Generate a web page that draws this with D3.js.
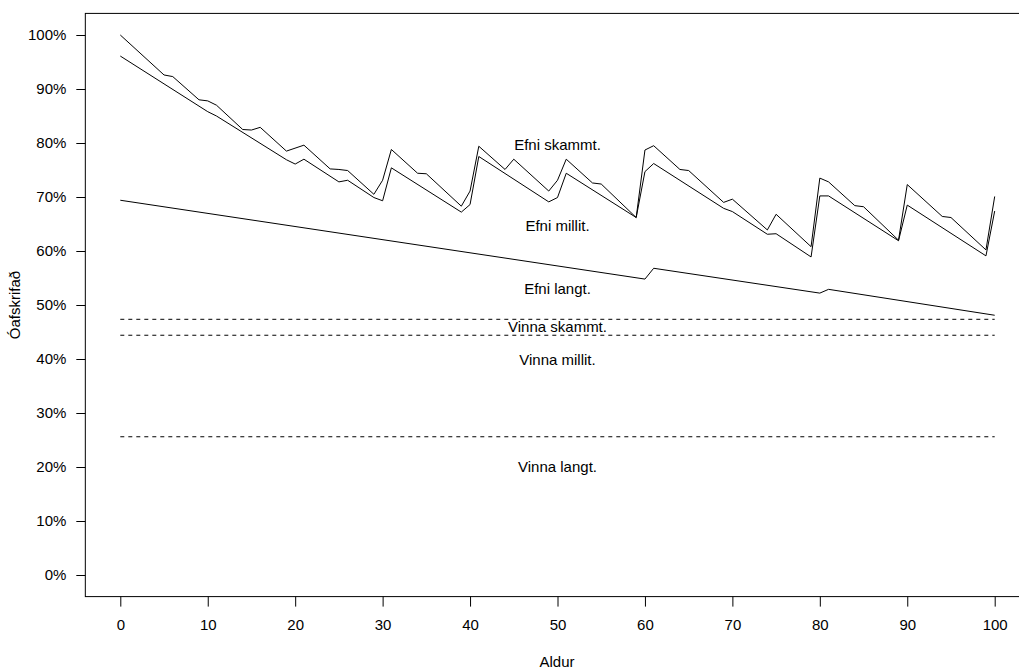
<!DOCTYPE html>
<html>
<head>
<meta charset="utf-8">
<script src="https://cdn.jsdelivr.net/npm/d3@7"></script>
<style>
  html, body { margin: 0; padding: 0; background: #fff; }
  svg { display: block; font-family: "Liberation Sans", Arial, sans-serif; }
</style>
</head>
<body>
<svg id="chart" width="1019" height="671"></svg>
<script>
// Aldur (age) at each vertex, and remaining value in % for each series
const efniSkammtAge = [0, 5, 6, 9, 10, 11, 14, 15, 16, 19, 21, 24, 25, 26, 29, 30, 31, 34, 35, 39, 40, 41, 44, 45, 49, 50, 51, 54, 55, 59, 60, 61, 64, 65, 69, 70, 74, 75, 79, 80, 81, 84, 85, 89, 90, 94, 95, 99, 100];
const efniSkammt    = [100, 92.6, 92.3, 88.0, 87.8, 87.0, 82.5, 82.4, 82.9, 78.5, 79.6, 75.2, 75.1, 74.9, 70.5, 73.1, 78.8, 74.4, 74.3, 68.3, 71.1, 79.4, 75.1, 77.0, 71.1, 73.1, 77.0, 72.6, 72.4, 66.2, 78.7, 79.5, 75.1, 74.9, 69.0, 69.6, 63.9, 66.8, 60.8, 73.5, 72.8, 68.4, 68.2, 62.0, 72.3, 66.4, 66.2, 60.2, 70.1];

const efniMillitAge = [0, 10, 11, 19, 20, 21, 25, 26, 29, 30, 31, 39, 40, 41, 49, 50, 51, 59, 60, 61, 69, 70, 74, 75, 79, 80, 81, 89, 90, 99, 100];
const efniMillit    = [96.1, 85.8, 85.0, 76.9, 76.1, 77.0, 72.8, 73.1, 69.9, 69.3, 75.4, 67.2, 68.6, 77.5, 69.1, 69.9, 74.4, 66.2, 74.7, 76.2, 67.9, 67.3, 63.1, 63.2, 58.9, 70.2, 70.2, 61.9, 68.5, 59.1, 67.4];

const efniLangtAge = [0, 60, 61, 80, 81, 100];
const efniLangt    = [69.4, 54.8, 56.8, 52.2, 52.9, 48.1];

// Flat levels for the "Vinna" series
const vinnaNames  = ["Vinna skammt.", "Vinna millit.", "Vinna langt."];
const vinnaLevels = [47.35, 44.4, 25.6];

// Text labels: [text, age, value]
const labelTexts  = ["Efni skammt.", "Efni millit.", "Efni langt.", "Vinna skammt.", "Vinna millit.", "Vinna langt."];
const labelValues = [79.6, 64.6, 53.1, 46.0, 39.8, 20.1];
const labelAge = 50;

const xTicks = [0, 10, 20, 30, 40, 50, 60, 70, 80, 90, 100];
const yTicks = [0, 10, 20, 30, 40, 50, 60, 70, 80, 90, 100];

const svg = d3.select("#chart");

const x = d3.scaleLinear().domain([0, 100]).range([120.3, 994.7]);
const y = d3.scaleLinear().domain([0, 100]).range([575, 35]);

const FS = 15;

// plot frame (axis ranges padded by 4%)
svg.append("rect")
  .attr("x", x(-4)).attr("y", y(104))
  .attr("width", x(104) - x(-4)).attr("height", y(-4) - y(104))
  .attr("fill", "none").attr("stroke", "#000").attr("stroke-width", 1);

// left axis
const yAxis = d3.axisLeft(y).tickValues(yTicks).tickSize(9).tickPadding(10)
  .tickFormat(d => d + "%");
const gy = svg.append("g").attr("transform", `translate(${x(-4)},0)`).call(yAxis);
gy.select(".domain").remove();
gy.selectAll(".tick line").attr("stroke", "#000");
gy.selectAll(".tick text").attr("font-size", FS).attr("fill", "#000")
  .attr("font-family", "Liberation Sans, Arial, sans-serif");

// bottom axis
const xAxis = d3.axisBottom(x).tickValues(xTicks).tickSize(10).tickPadding(13);
const gx = svg.append("g").attr("transform", `translate(0,${y(-4)})`).call(xAxis);
gx.select(".domain").remove();
gx.selectAll(".tick line").attr("stroke", "#000");
gx.selectAll(".tick text").attr("font-size", FS).attr("fill", "#000")
  .attr("font-family", "Liberation Sans, Arial, sans-serif");

// axis titles
svg.append("text")
  .attr("x", 557).attr("y", 667)
  .attr("text-anchor", "middle").attr("font-size", FS)
  .text("Aldur");
svg.append("text")
  .attr("transform", `translate(20,${(y(-4) + y(104)) / 2}) rotate(-90)`)
  .attr("text-anchor", "middle").attr("font-size", FS)
  .text("Óafskrifað");

// series lines
const line = d3.line().x(d => x(d[0])).y(d => y(d[1]));
const series = [
  [efniSkammtAge, efniSkammt],
  [efniMillitAge, efniMillit],
  [efniLangtAge, efniLangt]
];
series.forEach(([ages, vals]) => {
  svg.append("path")
    .datum(ages.map((a, i) => [a, vals[i]]))
    .attr("d", line)
    .attr("fill", "none").attr("stroke", "#000").attr("stroke-width", 1);
});

// dashed levels
svg.selectAll("line.vinna")
  .data(vinnaLevels)
  .enter().append("line")
  .attr("class", "vinna")
  .attr("x1", x(0)).attr("x2", x(100))
  .attr("y1", d => y(d)).attr("y2", d => y(d))
  .attr("stroke", "#000").attr("stroke-width", 1)
  .attr("stroke-dasharray", "4,4");

// series labels
svg.selectAll("text.lbl")
  .data(labelTexts)
  .enter().append("text")
  .attr("class", "lbl")
  .attr("x", x(labelAge))
  .attr("y", (d, i) => y(labelValues[i]))
  .attr("dy", "0.35em")
  .attr("text-anchor", "middle").attr("font-size", FS)
  .text(d => d);
</script>
</body>
</html>
